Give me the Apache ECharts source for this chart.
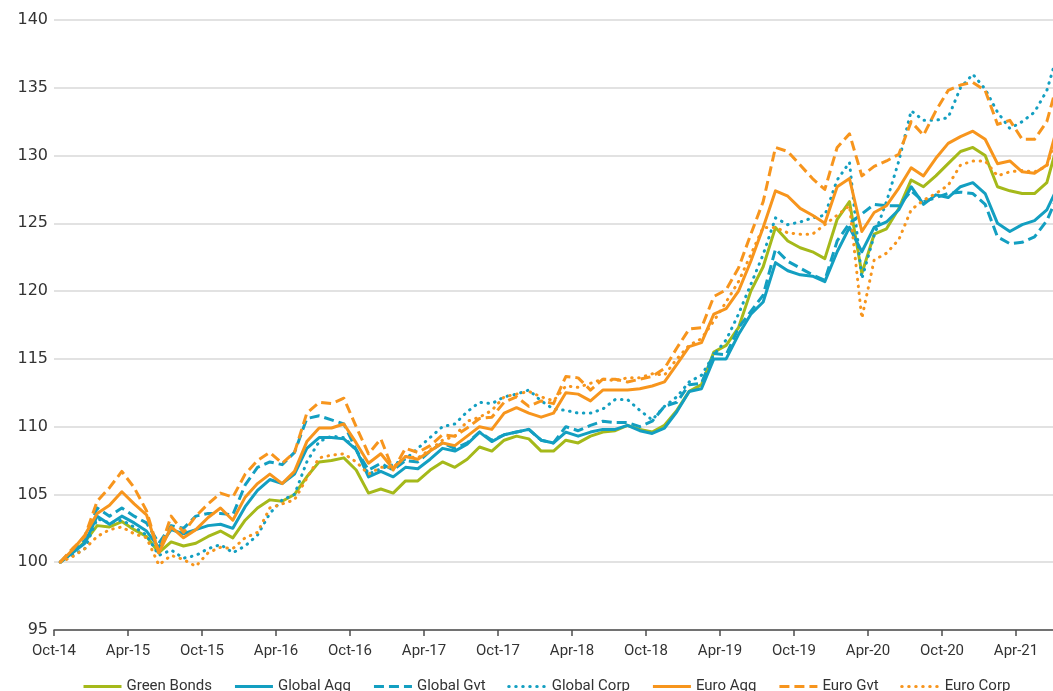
<!DOCTYPE html>
<html>
<head>
<meta charset="utf-8">
<script src="https://cdn.jsdelivr.net/npm/echarts@6/dist/echarts.min.js"></script>
<style>
html,body{margin:0;padding:0;background:#ffffff;}
#chart{width:1053px;height:691px;}
</style>
</head>
<body>
<div id="chart"></div>
<script>
// Tick labels every 6 months, starting Oct-14
const tickLabels = ['Oct-14','Apr-15','Oct-15','Apr-16','Oct-16','Apr-17','Oct-17','Apr-18','Oct-18','Apr-19','Oct-19','Apr-20','Oct-20','Apr-21'];

// Monthly index values (Oct-14 = 100), Oct-14 .. Jul-21
const greenBonds = [100.0,100.7,101.5,102.7,102.6,103.0,102.4,101.9,100.7,101.5,101.2,101.4,101.9,102.3,101.8,103.1,104.0,104.6,104.5,105.0,106.3,107.4,107.5,107.7,106.8,105.1,105.4,105.1,106.0,106.0,106.8,107.4,107.0,107.6,108.5,108.2,109.0,109.3,109.1,108.2,108.2,109.0,108.8,109.3,109.6,109.7,110.1,109.8,109.6,110.1,111.2,112.6,113.1,115.5,116.0,117.3,120.0,121.8,124.7,123.7,123.2,122.9,122.4,125.3,126.6,121.3,124.2,124.6,126.1,128.2,127.7,128.5,129.4,130.3,130.6,130.0,127.7,127.4,127.2,127.2,128.0,131.3];
const globalAgg = [100.0,100.7,101.4,103.4,102.8,103.4,102.9,102.3,101.1,102.4,102.1,102.4,102.7,102.8,102.5,104.1,105.3,106.1,105.8,106.5,108.4,109.2,109.2,109.1,108.3,106.3,106.7,106.3,107.0,106.9,107.6,108.4,108.2,108.7,109.6,108.9,109.4,109.6,109.8,109.0,108.8,109.6,109.3,109.6,109.8,109.8,110.1,109.7,109.5,109.9,111.1,112.6,112.8,115.0,115.0,116.8,118.3,119.2,122.1,121.5,121.2,121.1,120.7,122.9,124.7,122.9,124.7,125.1,126.0,127.7,126.4,127.1,126.9,127.7,128.0,127.2,125.0,124.4,124.9,125.2,126.0,127.9];
const globalGvt = [100.0,100.9,101.6,104.0,103.4,104.0,103.4,102.9,101.4,102.7,102.5,103.4,103.6,103.6,103.5,105.7,107.0,107.4,107.2,108.1,110.6,110.8,110.5,110.2,108.3,106.8,107.3,106.8,107.5,107.4,108.2,108.8,108.4,108.8,109.6,109.0,109.4,109.6,109.8,109.0,108.8,110.0,109.7,110.1,110.4,110.3,110.3,110.0,110.4,111.5,111.8,113.1,113.2,115.4,115.3,117.3,118.5,119.7,123.1,122.2,121.7,121.2,120.8,123.7,125.0,125.7,126.4,126.3,126.3,127.4,126.6,126.9,127.2,127.3,127.2,126.4,124.0,123.5,123.6,124.0,125.2,127.3];
const globalCorp = [100.0,100.5,101.0,103.2,102.9,103.1,102.6,102.0,100.5,100.9,100.3,100.5,101.0,101.3,100.7,101.2,102.0,103.6,104.6,105.0,107.4,108.9,109.3,109.2,108.3,106.5,106.9,107.2,107.6,108.4,109.2,110.0,110.2,111.1,111.8,111.7,112.2,112.4,112.7,111.9,111.3,111.2,111.0,111.0,111.3,112.0,112.0,111.2,110.5,111.5,112.2,113.3,113.8,115.3,116.4,118.3,120.5,122.7,125.4,124.9,125.1,125.4,125.6,128.2,129.5,120.9,124.1,126.6,129.6,133.3,132.6,132.6,132.8,135.0,136.0,134.9,133.2,132.0,132.5,133.2,134.8,137.9];
const euroAgg = [100.0,100.9,102.0,103.6,104.2,105.2,104.3,103.5,100.7,102.6,101.8,102.4,103.3,104.0,103.1,104.8,105.8,106.5,105.8,106.7,108.9,109.9,109.9,110.2,108.8,107.3,108.0,106.9,107.8,107.6,108.2,108.8,108.6,109.3,110.0,109.8,111.0,111.4,111.0,110.7,111.0,112.5,112.4,111.9,112.7,112.7,112.7,112.8,113.0,113.3,114.6,115.9,116.2,118.3,118.7,120.0,122.2,124.7,127.4,127.0,126.1,125.6,125.0,127.7,128.3,124.4,125.8,126.3,127.6,129.1,128.5,129.8,130.9,131.4,131.8,131.2,129.4,129.6,128.8,128.7,129.3,132.6];
const euroGvt = [100.0,101.0,101.9,104.5,105.5,106.7,105.5,103.8,100.7,103.4,102.2,103.4,104.3,105.1,104.8,106.5,107.5,108.1,107.3,108.1,111.0,111.8,111.7,112.1,110.0,108.0,109.1,106.8,108.4,108.1,108.6,109.4,109.3,109.9,110.6,110.7,111.8,112.2,111.5,111.9,111.7,113.7,113.6,112.7,113.5,113.5,113.3,113.5,113.7,114.3,115.8,117.2,117.3,119.6,120.1,121.7,124.2,126.6,130.6,130.3,129.3,128.3,127.5,130.6,131.6,128.5,129.2,129.6,130.1,132.5,131.5,133.3,134.8,135.2,135.4,134.8,132.3,132.6,131.2,131.2,132.5,135.8];
const euroCorp = [100.0,100.4,101.0,101.9,102.4,102.6,102.1,101.8,99.8,100.5,100.2,99.7,100.7,101.1,101.0,101.8,102.2,104.0,104.3,104.6,106.2,107.7,107.9,108.0,107.4,106.5,107.0,107.0,107.8,107.7,108.3,109.0,109.3,110.4,110.7,111.2,112.2,112.4,112.6,112.2,111.9,113.0,112.9,113.2,113.5,113.4,113.6,113.6,113.9,113.8,115.0,116.0,116.5,117.8,119.2,120.7,122.7,124.7,124.7,124.3,124.2,124.2,124.9,125.6,126.3,118.0,122.3,122.8,123.8,126.0,126.7,127.2,127.8,129.3,129.6,129.6,128.5,128.8,128.9,128.8,129.2,132.1];

const seriesNames = ['Green Bonds','Global Agg','Global Gvt','Global Corp','Euro Agg','Euro Gvt','Euro Corp'];

const GREEN = '#a5b91a', TEAL = '#139fc1', ORANGE = '#f7951d';
const FONT = 'Roboto';
const DASH = [10, 5];
const DOT = [0.5, 6.5];

function toPoints(arr) { return arr.map(function (v, i) { return [i + 0.5, v]; }); }

function mk(name, data, color, type) {
  return {
    name: name,
    type: 'line',
    data: toPoints(data),
    symbol: 'none',
    clip: true,
    silent: true,
    lineStyle: { color: color, width: 3, type: type, cap: type === DOT ? 'round' : 'butt', join: 'round' },
    itemStyle: { color: color },
    emphasis: { disabled: true }
  };
}

const chart = echarts.init(document.getElementById('chart'), null, { renderer: 'canvas' });
chart.setOption({
  animation: false,
  backgroundColor: '#ffffff',
  grid: { left: 54, right: 0, top: 20, bottom: 61, containLabel: false },
  xAxis: {
    type: 'value', min: 0, max: 81, interval: 6,
    axisLine: { show: true, lineStyle: { color: '#4d4d4d', width: 1.5 } },
    axisTick: { show: true, length: 6, lineStyle: { color: '#4d4d4d', width: 1.5 } },
    axisLabel: {
      color: '#333333', fontSize: 15, fontFamily: FONT, margin: 14, showMaxLabel: false,
      formatter: function (v) { return (v % 6 === 0 && tickLabels[v / 6]) ? tickLabels[v / 6] : ''; }
    },
    splitLine: { show: false }
  },
  yAxis: {
    type: 'value', min: 95, max: 140, interval: 5,
    axisLine: { show: false }, axisTick: { show: false },
    axisLabel: { color: '#333333', fontSize: 16, fontFamily: 'DejaVu Sans', margin: 6 },
    splitLine: { lineStyle: { color: '#d9d9d9', width: 1.5 } }
  },
  legend: {
    data: seriesNames,
    left: 77, top: 674,
    itemWidth: 38, itemHeight: 14, itemGap: 21.5,
    itemStyle: { opacity: 0 },
    lineStyle: { width: 3 },
    textStyle: { color: '#333333', fontSize: 15, fontFamily: FONT },
    selectedMode: false
  },
  series: [
    mk('Green Bonds', greenBonds, GREEN, 'solid'),
    mk('Global Agg', globalAgg, TEAL, 'solid'),
    mk('Global Gvt', globalGvt, TEAL, DASH),
    mk('Global Corp', globalCorp, TEAL, DOT),
    mk('Euro Agg', euroAgg, ORANGE, 'solid'),
    mk('Euro Gvt', euroGvt, ORANGE, DASH),
    mk('Euro Corp', euroCorp, ORANGE, DOT)
  ]
});
</script>
</body>
</html>
